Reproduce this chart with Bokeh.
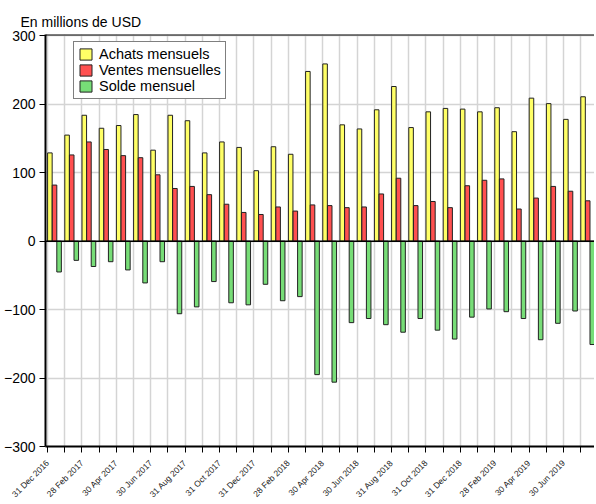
from bokeh.plotting import figure
from bokeh.models import Range1d, FixedTicker, Span, Legend, LegendItem
from bokeh.embed import file_html
from bokeh.resources import INLINE
from math import pi

periodes = ["31 Dec 2016", "31 Jan 2017", "28 Feb 2017", "31 Mar 2017", "30 Apr 2017", "31 May 2017",
            "30 Jun 2017", "31 Jul 2017", "31 Aug 2017", "30 Sep 2017", "31 Oct 2017", "30 Nov 2017",
            "31 Dec 2017", "31 Jan 2018", "28 Feb 2018", "31 Mar 2018", "30 Apr 2018", "31 May 2018",
            "30 Jun 2018", "31 Jul 2018", "31 Aug 2018", "30 Sep 2018", "31 Oct 2018", "30 Nov 2018",
            "31 Dec 2018", "31 Jan 2019", "28 Feb 2019", "31 Mar 2019", "30 Apr 2019", "31 May 2019",
            "30 Jun 2019", "31 Jul 2019"]
achats = [129, 155, 184, 165, 169, 185, 133, 184, 176, 129, 145, 137, 103, 138, 127, 248,
          259, 170, 164, 192, 226, 166, 189, 194, 193, 189, 195, 160, 209, 201, 178, 211]
ventes = [82, 126, 145, 134, 125, 122, 97, 77, 80, 68, 54, 42, 39, 50, 44, 53,
          52, 49, 50, 69, 92, 52, 58, 49, 81, 89, 91, 47, 63, 80, 73, 59]
solde = [-45, -28, -37, -30, -42, -61, -30, -106, -96, -59, -90, -93, -63, -87, -81, -195,
         -206, -119, -113, -122, -133, -113, -130, -143, -111, -99, -103, -113, -144, -120, -102, -151]
y_ticks = [-300, -200, -100, 0, 100, 200, 300]
titre = "En millions de USD"
noms = ["Achats mensuels", "Ventes mensuelles", "Solde mensuel"]

FONT = "Liberation Sans"
idx = list(range(len(periodes)))

p = figure(frame_width=549, frame_height=412,
           x_range=Range1d(-0.12, 31.8), y_range=Range1d(-300, 302),
           output_backend="svg", toolbar_location=None,
           min_border_left=39, min_border_right=0, min_border_top=34, min_border_bottom=45)
p.outline_line_color = None
p.background_fill_color = "white"

p.title.text = titre
p.title.align = "left"
p.title.offset = -25
p.title.text_font = FONT
p.title.text_font_size = "14px"
p.title.text_font_style = "normal"
p.title.text_color = "black"
p.title.standoff = 10

w = 0.265
r1 = p.vbar(x=[i + 0.135 for i in idx], top=achats, bottom=0, width=w,
            fill_color="#FFFF66", line_color="#222222", line_width=1)
r2 = p.vbar(x=[i + 0.405 for i in idx], top=ventes, bottom=0, width=w,
            fill_color="#FF5050", line_color="#222222", line_width=1)
r3 = p.vbar(x=[i + 0.67 for i in idx], top=solde, bottom=0, width=w,
            fill_color="#77DD77", line_color="#222222", line_width=1)

xt = FixedTicker(ticks=idx)
p.xaxis.ticker = xt
p.xgrid.ticker = xt
p.yaxis.ticker = FixedTicker(ticks=y_ticks)
p.ygrid.ticker = FixedTicker(ticks=y_ticks)
for g in (p.xgrid, p.ygrid):
    g.grid_line_color = "#D4D4D4"
    g.grid_line_width = 1.5

p.xaxis.major_label_overrides = {i: (periodes[i] if i % 2 == 0 else "") for i in idx}
p.xaxis.major_label_orientation = pi / 4
p.xaxis.major_label_text_font = FONT
p.xaxis.major_label_text_font_size = "8.5px"
p.xaxis.major_label_text_color = "#222222"
p.xaxis.axis_line_width = 2
p.xaxis.axis_line_color = "black"
p.xaxis.major_tick_out = 6
p.xaxis.major_tick_in = 0
p.xaxis.minor_tick_line_color = None
p.xaxis.major_label_standoff = 9

p.yaxis.major_label_text_font = FONT
p.yaxis.major_label_text_font_size = "14px"
p.yaxis.major_label_text_color = "black"
p.yaxis.axis_line_width = 2
p.yaxis.axis_line_color = "black"
p.yaxis.major_tick_out = 6
p.yaxis.major_tick_in = 0
p.yaxis.minor_tick_line_color = None
p.yaxis.major_label_standoff = 4

p.add_layout(Span(location=0, dimension="width", line_color="black", line_width=1.5))
p.add_layout(Span(location=302, dimension="width", line_color="black", line_width=2))

legend = Legend(items=[LegendItem(label=noms[0], renderers=[r1]),
                       LegendItem(label=noms[1], renderers=[r2]),
                       LegendItem(label=noms[2], renderers=[r3])],
                location=(28, 347), orientation="vertical")
legend.label_text_font = FONT
legend.label_text_font_size = "14.5px"
legend.label_text_color = "black"
legend.glyph_width = 15
legend.glyph_height = 14
legend.label_height = 15
legend.label_standoff = 6
legend.spacing = 0
legend.padding = 4
legend.margin = 0
legend.border_line_color = "black"
legend.border_line_width = 1.5
legend.background_fill_color = "white"
legend.background_fill_alpha = 1
p.add_layout(legend)

open("out.html", "w").write(file_html(p, INLINE))
